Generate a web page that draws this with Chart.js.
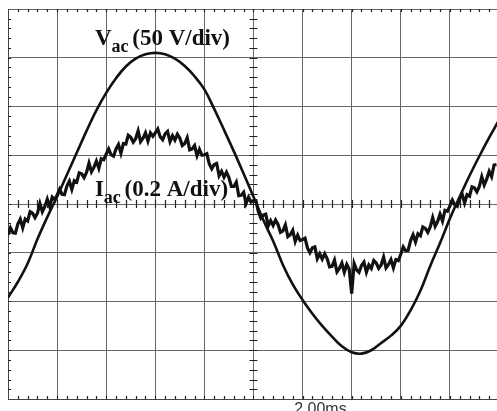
<!DOCTYPE html>
<html>
<head>
<meta charset="utf-8">
<script src="https://cdn.jsdelivr.net/npm/chart.js@4"></script>
<style>
  html, body { margin: 0; padding: 0; background: #fff; }
  #wrap { width: 497px; height: 411px; }
</style>
</head>
<body>
<div id="wrap"><canvas id="scope" width="497" height="411"></canvas></div>
<script>
var voltageStep = 0.2;   // div between voltage samples
var voltageDiv = [
  -1.92, -1.60, -1.22, -0.72, -0.27, 0.15, 0.60, 1.05, 1.50, 1.92,
  2.28, 2.58, 2.82, 2.98, 3.07, 3.10, 3.07, 2.98, 2.83, 2.62,
  2.35, 1.95, 1.52, 1.08, 0.62, 0.15, -0.33, -0.76, -1.25, -1.65,
  -1.97, -2.25, -2.50, -2.72, -2.92, -3.04, -3.07, -3.00, -2.85, -2.70,
  -2.50, -2.18, -1.78, -1.27, -0.80, -0.30, 0.15, 0.58, 0.98, 1.36,
  1.72
];

var currentStep = 0.05;  // div between current samples
var currentDiv = [
  -0.63, -0.49, -0.59, -0.60, -0.41, -0.31, -0.49, -0.31, -0.35, -0.16,
  -0.19, -0.28, -0.19, 0.01, -0.16, -0.05, 0.10, -0.06, 0.14, 0.09,
  0.18, 0.30, 0.20, 0.19, 0.37, 0.47, 0.30, 0.48, 0.45, 0.64,
  0.62, 0.54, 0.65, 0.84, 0.66, 0.75, 0.88, 0.73, 0.93, 0.91,
  1.02, 1.13, 1.01, 0.98, 1.13, 1.22, 1.04, 1.24, 1.23, 1.41,
  1.37, 1.27, 1.34, 1.50, 1.28, 1.35, 1.46, 1.29, 1.46, 1.39,
  1.46, 1.54, 1.38, 1.32, 1.44, 1.49, 1.28, 1.40, 1.31, 1.43,
  1.35, 1.20, 1.24, 1.36, 1.11, 1.13, 1.20, 0.99, 1.12, 1.00,
  1.01, 1.03, 0.82, 0.72, 0.81, 0.83, 0.58, 0.67, 0.55, 0.65,
  0.54, 0.36, 0.36, 0.45, 0.17, 0.18, 0.24, 0.01, 0.14, 0.04,
  0.07, 0.07, -0.16, -0.29, -0.23, -0.21, -0.45, -0.34, -0.44, -0.33,
  -0.42, -0.58, -0.55, -0.43, -0.67, -0.63, -0.54, -0.77, -0.64, -0.75,
  -0.73, -0.70, -0.90, -1.00, -0.90, -0.88, -1.12, -1.02, -1.13, -1.02,
  -1.12, -1.29, -1.28, -1.15, -1.39, -1.32, -1.21, -1.40, -1.24, -1.34,
  -1.84, -1.22, -1.35, -1.40, -1.26, -1.19, -1.40, -1.25, -1.32, -1.16,
  -1.21, -1.32, -1.25, -1.09, -1.31, -1.24, -1.14, -1.31, -1.14, -1.16,
  -1.03, -0.88, -0.96, -0.95, -0.75, -0.63, -0.78, -0.61, -0.65, -0.47,
  -0.50, -0.58, -0.47, -0.28, -0.46, -0.36, -0.21, -0.35, -0.13, -0.15,
  -0.04, 0.08, -0.02, -0.05, 0.11, 0.20, 0.02, 0.19, 0.16, 0.35,
  0.33, 0.25, 0.36, 0.56, 0.39, 0.51, 0.67, 0.56, 0.80, 0.81
];

var xDivs = [0, 1, 2, 3, 4, 5, 6, 7, 8, 9];
var yDivs = [-4, -3, -2, -1, 0, 1, 2, 3, 4];
var minorStep = 0.2;
var timebase = '2.00ms';
var voltageLabel = ['V', 'ac', ' (50 V/div)'];
var currentLabel = ['I', 'ac', ' (0.2 A/div)'];

function toPoints(values, step) {
  return values.map(function(v, i) { return { x: i * step, y: v }; });
}

var scopeDecor = {
  id: 'scopeDecor',
  beforeDatasetsDraw: function(chart) {
    var ctx = chart.ctx;
    var xs = chart.scales.x, ys = chart.scales.y;
    var a = chart.chartArea;
    var cx = xs.getPixelForValue(5), cy = ys.getPixelForValue(0);
    ctx.save();
    ctx.strokeStyle = '#222';
    ctx.lineWidth = 1.2;
    ctx.beginPath();
    for (var t = minorStep; t < xs.max; t += minorStep) {
      var px = Math.round(xs.getPixelForValue(t)) + 0.5;
      ctx.moveTo(px, cy - 4); ctx.lineTo(px, cy + 4);
      ctx.moveTo(px, a.top); ctx.lineTo(px, a.top + 3);
      ctx.moveTo(px, a.bottom); ctx.lineTo(px, a.bottom - 3);
    }
    for (var u = -4 + minorStep; u < 4; u += minorStep) {
      var py = Math.round(ys.getPixelForValue(u)) + 0.5;
      ctx.moveTo(cx - 4, py); ctx.lineTo(cx + 4, py);
      ctx.moveTo(a.left, py); ctx.lineTo(a.left + 3, py);
    }
    ctx.stroke();
    ctx.restore();
  },
  afterDatasetsDraw: function(chart) {
    var ctx = chart.ctx;
    var xs = chart.scales.x, ys = chart.scales.y;
    function label(parts, xv, yv) {
      var x = xs.getPixelForValue(xv), y = ys.getPixelForValue(yv);
      ctx.textBaseline = 'alphabetic';
      ctx.font = 'bold 23px "Liberation Serif"';
      ctx.fillText(parts[0], x, y);
      x += ctx.measureText(parts[0]).width;
      ctx.font = 'bold 18px "Liberation Serif"';
      ctx.fillText(parts[1], x, y + 7);
      x += ctx.measureText(parts[1]).width - 2;
      ctx.font = 'bold 23px "Liberation Serif"';
      ctx.fillText(parts[2], x, y);
    }
    ctx.save();
    ctx.fillStyle = '#111';
    label(voltageLabel, 1.77, 3.26);
    label(currentLabel, 1.77, 0.17);
    ctx.font = '16px "Liberation Sans"';
    ctx.fillStyle = '#333';
    ctx.textBaseline = 'top';
    ctx.fillText(timebase, xs.getPixelForValue(5.83), chart.chartArea.bottom + 3);
    ctx.restore();
  }
};

var ctx = document.getElementById('scope').getContext('2d');
var scopeChart = new Chart(ctx, {
  type: 'line',
  data: {
    datasets: [{
      label: 'Vac',
      data: toPoints(voltageDiv, voltageStep),
      borderColor: '#111',
      borderWidth: 2.6,
      pointRadius: 0,
      tension: 0.4,
      fill: false
    }, {
      label: 'Iac',
      data: toPoints(currentDiv, currentStep),
      borderColor: '#111',
      borderWidth: 3.2,
      pointRadius: 0,
      tension: 0,
      fill: false
    }]
  },
  options: {
    responsive: false,
    animation: false,
    layout: { padding: { left: 8, top: 9, right: 0, bottom: 12 } },
    plugins: { legend: { display: false }, tooltip: { enabled: false } },
    scales: {
      x: {
        type: 'linear',
        min: 0,
        max: 9.96,
        afterBuildTicks: function(scale) {
          scale.ticks = xDivs.map(function(v) { return { value: v }; });
        },
        ticks: { display: false },
        grid: { color: '#666', lineWidth: 1, drawTicks: false },
        border: { display: true, color: '#444', width: 1 }
      },
      y: {
        type: 'linear',
        min: -4,
        max: 4,
        afterBuildTicks: function(scale) {
          scale.ticks = yDivs.map(function(v) { return { value: v }; });
        },
        ticks: { display: false },
        grid: { color: '#666', lineWidth: 1, drawTicks: false },
        border: { display: true, color: '#444', width: 1 }
      }
    }
  },
  plugins: [scopeDecor]
});
</script>
</body>
</html>
